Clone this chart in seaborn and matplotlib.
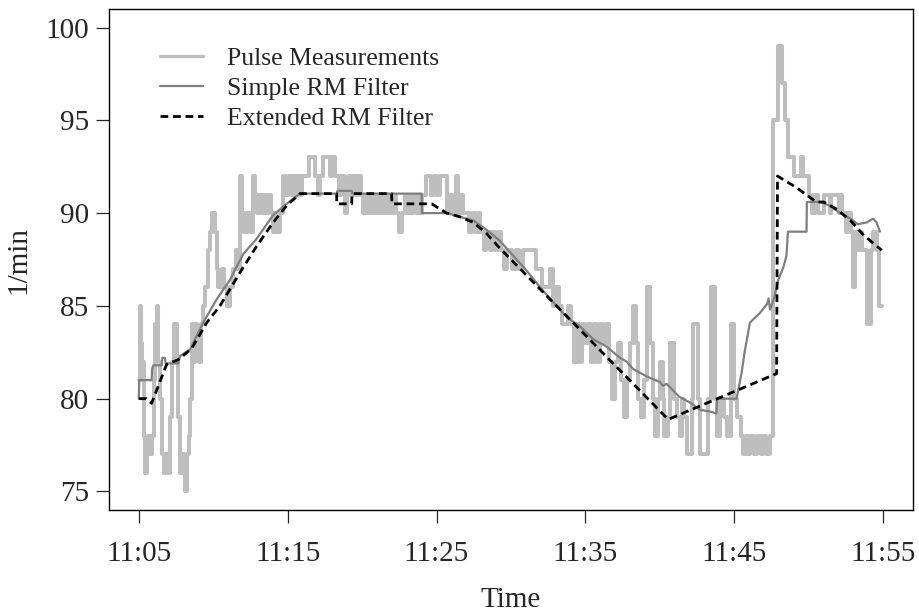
import matplotlib
matplotlib.use("Agg")
import matplotlib.pyplot as plt
import seaborn as sns
import pandas as pd

# ---------------- data (minutes after 11:05) ----------------
pulse_t = [0.00, 0.05, 0.15, 0.22, 0.30, 0.38, 0.45, 0.55, 0.65, 0.78, 0.90, 1.00, 1.10, 1.20, 1.32,
           1.45, 1.55, 1.70, 1.85, 2.00, 2.12, 2.25, 2.35, 2.55, 2.65, 2.78, 2.90, 3.02, 3.12, 3.25,
           3.35, 3.45, 3.55, 3.68, 3.80, 3.92, 4.05, 4.18, 4.32, 4.48, 4.62, 4.80, 4.95, 5.15, 5.25,
           5.35, 5.60, 5.72, 5.95, 6.15, 6.30, 6.50, 6.65, 6.80, 6.95, 7.10, 7.30, 7.45, 7.65, 7.78,
           7.95, 8.10, 8.25, 8.40, 8.55, 8.70, 8.85, 9.00, 9.15, 9.30, 9.50, 9.70, 9.85, 10.00, 10.20,
           10.35, 10.50, 10.65, 10.80, 10.95,
           11.45, 11.85, 12.05, 12.15, 12.40, 12.85, 12.95, 13.20, 13.45, 13.60, 13.85, 14.00, 14.15,
           14.30, 14.45, 14.60, 14.75, 14.90, 15.05, 15.15, 15.25, 15.35, 15.45, 15.55, 15.65, 15.75,
           15.85, 15.95, 16.05, 16.15, 16.25, 16.35, 16.45, 16.55, 16.65, 16.75, 16.90, 17.05, 17.25,
           17.50, 17.70, 17.85, 18.00, 18.15, 18.30, 18.45, 18.60, 18.75, 18.90, 19.05, 19.30, 19.65,
           19.80, 20.05, 20.20, 20.70, 20.90, 21.10, 21.30, 21.45, 21.65, 21.80, 22.20, 22.40, 22.60,
           22.80, 22.95, 23.20, 23.35, 23.60, 23.75, 23.95, 24.15, 24.30, 24.55, 24.75, 25.05, 25.35,
           25.55, 25.80, 26.70, 27.10, 27.65, 27.80, 28.00, 28.20, 28.40, 28.80, 29.00, 29.20, 29.40,
           29.60, 29.80, 30.00, 30.20, 30.40, 30.60, 30.80, 31.00, 31.20, 31.40, 31.60, 31.80, 32.00,
           32.20, 32.40, 32.60, 32.80, 33.00, 33.20, 33.40, 33.55, 33.75, 33.95, 34.15, 34.35, 34.55,
           34.70, 34.90, 35.00, 35.20, 35.30, 35.55, 35.70, 35.95, 36.15, 36.35, 36.50, 36.65, 36.80,
           37.15, 37.25, 37.55, 37.70, 38.25, 38.40, 38.70, 38.85, 39.05, 39.30, 39.50, 39.80, 40.00,
           40.20, 40.45, 40.60, 40.80, 40.95, 41.05, 41.35, 41.50, 41.80, 41.95, 42.15, 42.40, 42.60,
           42.95, 43.20, 43.40, 43.60, 44.00, 44.45, 44.60, 45.00, 45.20, 45.45, 45.65, 46.00, 46.40,
           46.50, 47.00, 47.15, 47.25, 47.50, 47.65, 47.85, 47.95, 48.10, 48.30, 48.45, 48.60, 48.90,
           49.15, 49.30, 49.55, 49.70, 49.90]
pulse_v = [81, 85, 83, 81, 82, 78, 76, 77, 78, 77, 78, 81, 84, 85, 82,
           80, 77, 76, 77, 76, 79, 82, 84, 82, 79, 76, 77, 76, 75, 77,
           78, 80, 84, 82, 84, 83, 82, 84, 85, 86, 88, 89, 90, 89, 87,
           86, 87, 86, 85, 86, 87, 88, 87, 92, 90, 89, 90, 89, 92, 91,
           90, 91, 90, 91, 90, 91, 90, 89, 90, 89, 90, 92, 91, 92, 91,
           92, 91, 92, 91, 92,
           93, 92, 91, 92, 93, 92, 93, 92, 91, 92, 90, 91, 92,
           91, 92, 91, 92, 91, 90, 91, 90, 91, 90, 91, 90, 91,
           90, 91, 90, 91, 90, 91, 90, 91, 90, 91, 90, 91, 90,
           89, 90, 91, 90, 91, 90, 91, 90, 91, 90, 91, 92, 91,
           92, 91, 92, 90, 91, 90, 92, 90, 91, 90, 89, 90, 89,
           90, 89, 88, 89, 88, 89, 88, 89, 88, 87, 88, 87, 88,
           87, 88, 87, 86, 87, 85, 86, 85, 84, 85, 84, 82, 84,
           82, 84, 83, 84, 82, 84, 82, 84, 83, 84, 82, 80, 82,
           83, 81, 79, 81, 83, 85, 83, 80, 79, 81, 86, 83, 80,
           78, 80, 82, 80, 78, 79, 83, 80, 79, 78, 80, 79, 77,
           80, 84, 80, 77, 80, 86, 80, 78, 80, 79, 78, 84, 80,
           79, 78, 77, 78, 77, 78, 77, 78, 77, 78, 77, 78, 95,
           99, 97, 95, 93, 92, 93, 92, 91, 90, 91, 90, 91, 90,
           91, 90, 91, 90, 89, 90, 89, 86, 89, 88, 89, 88, 84,
           88, 89, 88, 85, 85]

simple_t = [0.00, 0.03, 0.86, 0.90, 0.98, 1.54, 1.58, 1.76, 1.80, 2.65, 2.77, 3.44, 4.33, 5.23, 6.12,
            7.02, 7.90, 9.03, 9.93, 10.83, 13.29, 13.35, 14.30, 14.35, 19.00, 19.02, 20.68, 21.57,
            22.47, 23.36, 24.26, 25.15, 26.05, 26.95, 27.84, 28.74, 29.63, 30.53, 31.43, 32.32, 32.76,
            33.20, 34.10, 35.00, 35.20, 35.45, 35.70, 36.30, 37.00, 37.70, 38.40, 38.80, 38.85, 40.15,
            40.49, 40.71, 41.05, 41.30, 41.70, 42.20, 42.30, 42.40, 42.70, 42.95, 43.30, 43.50, 43.60,
            44.85, 44.87, 45.30, 45.75, 46.40, 47.10, 47.80, 48.30, 48.90, 49.33, 49.55, 49.78]
simple_v = [80.0, 81.0, 81.0, 81.6, 81.8, 81.8, 82.2, 82.2, 81.9, 81.9, 82.3, 82.65, 84.1, 85.35, 86.4,
            87.8, 88.6, 89.9, 90.5, 91.05, 91.05, 91.2, 91.2, 91.05, 91.05, 90.0, 90.0, 89.8,
            89.6, 89.1, 88.5, 87.7, 86.9, 86.0, 85.2, 84.4, 83.9, 83.2, 82.8, 82.2, 82.0,
            81.6, 81.2, 80.9, 80.7, 80.8, 80.6, 80.1, 79.8, 79.4, 79.3, 79.2, 80.0, 80.0,
            81.4, 82.6, 84.1, 84.3, 84.6, 85.1, 85.4, 84.8, 85.5, 86.4, 87.1, 87.7, 89.0,
            89.0, 90.6, 90.6, 90.6, 90.4, 90.0, 89.7, 89.4, 89.5, 89.7, 89.5, 89.0]

ext_t = [0.00, 0.50, 0.86, 1.87, 2.65, 3.55, 4.56, 5.45, 6.80, 7.90, 9.03, 9.93, 10.83, 13.29, 13.30,
         14.30, 14.32, 16.98, 17.00, 19.67, 20.68, 21.57, 22.47, 23.36, 24.26, 35.56, 42.84, 42.90,
         44.20, 45.50, 46.00, 46.90, 47.80, 48.70, 49.90]
ext_v = [80.0, 80.0, 79.75, 81.85, 82.1, 82.7, 84.09, 85.0, 86.8, 88.2, 89.5, 90.4, 91.05, 91.05, 90.5,
         90.5, 91.05, 91.05, 90.5, 90.5, 90.0, 89.8, 89.5, 88.9, 88.1, 78.88, 81.35, 92.0,
         91.36, 90.6, 90.6, 90.2, 89.6, 88.8, 88.0]

x_ticks = [0, 10, 20, 30, 40, 50]
x_tick_labels = ["11:05", "11:15", "11:25", "11:35", "11:45", "11:55"]
y_ticks = [75, 80, 85, 90, 95, 100]

labels = ["Pulse Measurements", "Simple RM Filter", "Extended RM Filter"]

# ---------------- plot ----------------
sns.set_style("ticks")
plt.rcParams["font.family"] = ["Liberation Serif", "DejaVu Serif"]
plt.rcParams["axes.linewidth"] = 1.0

fig = plt.figure(figsize=(9.19, 6.14), dpi=100)
ax = fig.add_axes([109 / 919, 1 - 510 / 614, (913 - 109) / 919, (510 - 9) / 614])

pulse_df = pd.DataFrame({"t": pulse_t, "v": pulse_v})
simple_df = pd.DataFrame({"t": simple_t, "v": simple_v})
ext_df = pd.DataFrame({"t": ext_t, "v": ext_v})

sns.lineplot(data=pulse_df, x="t", y="v", ax=ax, color="#bebebe", lw=2.9,
             drawstyle="steps-post", estimator=None, sort=False, label=labels[0])
sns.lineplot(data=simple_df, x="t", y="v", ax=ax, color="#7f7f7f", lw=1.6,
             estimator=None, sort=False, label=labels[1])
sns.lineplot(data=ext_df, x="t", y="v", ax=ax, color="black", lw=2.0,
             linestyle=(0, (2.8, 1.7)), estimator=None, sort=False, label=labels[2])

ax.set_xlim(-2, 52)
ax.set_ylim(74, 101)
ax.set_xticks(x_ticks)
ax.set_xticklabels(x_tick_labels)
ax.set_yticks(y_ticks)
ax.tick_params(axis="both", direction="out", length=9.5, width=0.9, labelsize=21, pad=5)
ax.tick_params(axis="x", pad=13)
for s in ax.spines.values():
    s.set_visible(True)
    s.set_color("black")

ax.set_xlabel("Time", fontsize=21, labelpad=14)
ax.set_ylabel("1/min", fontsize=21, labelpad=10)

leg = ax.legend(loc="upper left", bbox_to_anchor=(0.064, 0.925), frameon=False,
                fontsize=18.5, handlelength=1.65, handletextpad=0.95, labelspacing=0.28,
                borderaxespad=0, borderpad=0)
leg.get_lines()[0].set_linewidth(2.4)

fig.savefig("out.png", dpi=100)
